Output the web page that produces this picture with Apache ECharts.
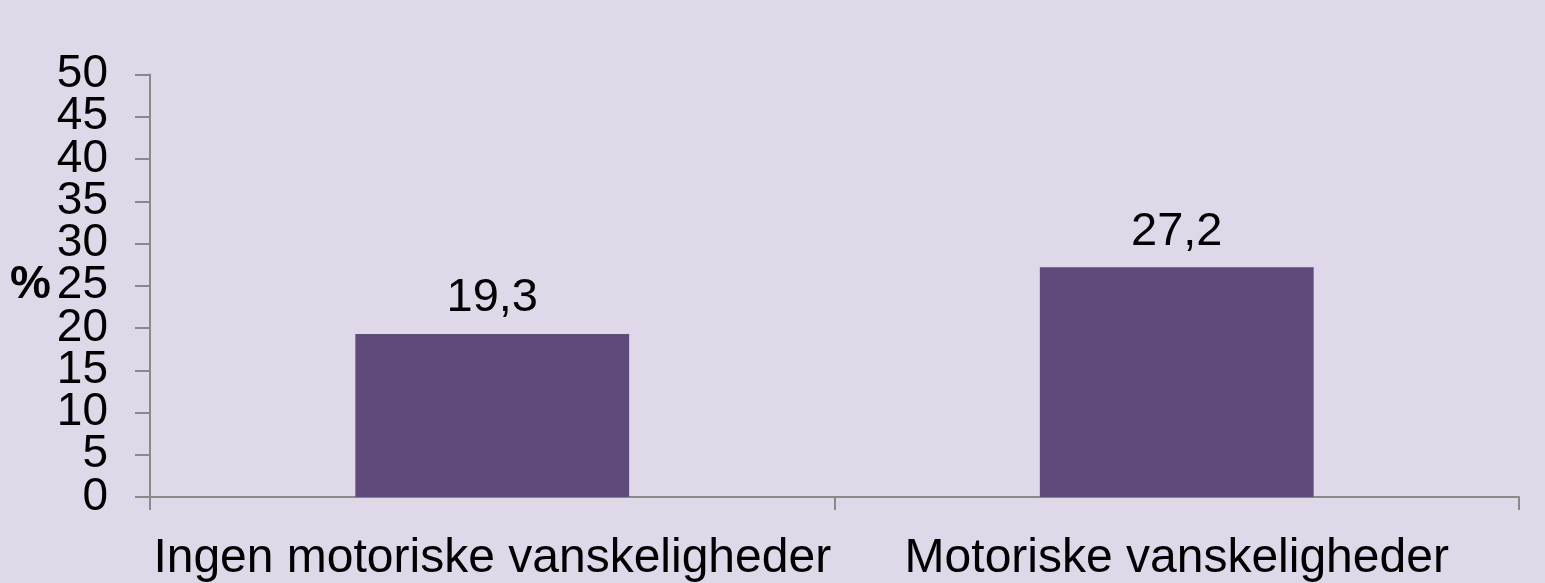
<!DOCTYPE html>
<html>
<head>
<meta charset="utf-8">
<script src="https://cdn.jsdelivr.net/npm/echarts@6/dist/echarts.min.js"></script>
<style>
  html, body { margin: 0; padding: 0; background: #dfd8e8; }
  #chart { width: 1545px; height: 583px; }
</style>
</head>
<body>
<div id="chart"></div>
<script>
const categories = ["Ingen motoriske vanskeligheder", "Motoriske vanskeligheder"];
const values = [19.3, 27.2];
const yTicks = [0, 5, 10, 15, 20, 25, 30, 35, 40, 45, 50];
// labels are split over two stacked axes so the big font does not trigger overlap hiding
const yLabelsEven = [0, 10, 20, 30, 40, 50];
const yLabelsOdd = [5, 15, 25, 35, 45];

const FONT = "'Liberation Sans', Arial, sans-serif";
const AXIS_GREY = "#898989";

const labelStyle = { color: "#000", fontSize: 46, fontFamily: FONT, margin: 42, hideOverlap: false };

const chart = echarts.init(document.getElementById("chart"), null, { renderer: "canvas" });
chart.setOption({
  backgroundColor: "#dfd8e8",
  animation: false,
  textStyle: { fontFamily: FONT },
  grid: { left: 150, right: 26, top: 74.5, bottom: 83, containLabel: false },
  xAxis: {
    type: "category",
    data: categories,
    axisLine: { show: true, lineStyle: { color: AXIS_GREY, width: 2 } },
    axisTick: { show: true, length: 13, lineStyle: { color: AXIS_GREY, width: 2 } },
    axisLabel: { color: "#000", fontSize: 48, fontFamily: FONT, margin: 38, interval: 0 }
  },
  yAxis: [
    {
      type: "value",
      position: "left",
      min: yTicks[0],
      max: yTicks[yTicks.length - 1],
      interval: 5,
      name: "%",
      nameLocation: "middle",
      nameRotate: 0,
      nameGap: 117,
      nameTextStyle: {
        color: "#000", fontSize: 46, fontWeight: "bold", fontFamily: FONT,
        align: "center", verticalAlign: "middle", padding: [15, 0, 0, 0]
      },
      axisLine: { show: true, lineStyle: { color: AXIS_GREY, width: 2 } },
      axisTick: {
        show: true, length: 15, customValues: yTicks,
        lineStyle: { color: AXIS_GREY, width: 2 }
      },
      splitLine: { show: false },
      axisLabel: Object.assign({ customValues: yLabelsEven, showMinLabel: true, showMaxLabel: true }, labelStyle)
    },
    {
      type: "value",
      position: "left",
      offset: 0,
      min: yTicks[0],
      max: yTicks[yTicks.length - 1],
      interval: 5,
      axisLine: { show: false },
      axisTick: { show: false },
      splitLine: { show: false },
      axisLabel: Object.assign({ customValues: yLabelsOdd }, labelStyle)
    }
  ],
  series: [{
    type: "bar",
    yAxisIndex: 0,
    data: values,
    barWidth: "40%",
    itemStyle: { color: "#604a7b" },
    label: {
      show: true,
      position: "top",
      distance: 12,
      color: "#000",
      fontSize: 47,
      fontFamily: FONT,
      formatter: (p) => String(p.value).replace(".", ",")
    }
  }]
});
</script>
</body>
</html>
